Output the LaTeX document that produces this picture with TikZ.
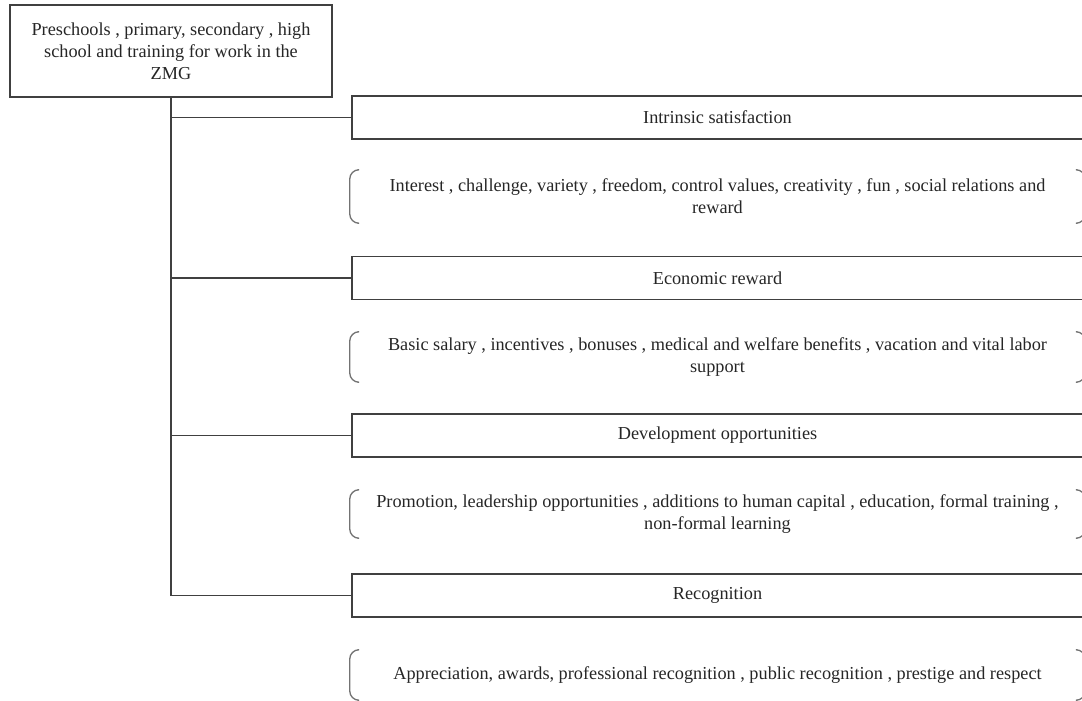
\documentclass[tikz,border=0pt]{standalone}
\usepackage{fontspec}
\setmainfont{Liberation Serif}
\tikzset{
  frame/.style={draw=black!75,line width=1.1pt,fill=white,inner sep=0pt,align=center,
    font=\fontsize{13.7}{16.5}\selectfont,text=black!85},
  headbox/.style={frame,minimum width=548.25pt,minimum height=32.5pt},
  detailbox/.style={inner sep=0pt,align=center,minimum width=551.25pt,
    font=\fontsize{13.7}{16.5}\selectfont,text=black!85},
  brace/.style={draw=black!55,line width=1pt,rounded corners=7pt},
  link/.style={draw=black!75,line width=1.1pt}
}
\begin{document}
\begin{tikzpicture}[x=0.75pt,y=-0.75pt]
\useasboundingbox (0,0) rectangle (1082,700);
\node[frame,minimum width=241.5pt,minimum height=69pt] (top) at (171,51)
  {Preschools , primary, secondary , high\\ school and training for work in the\\ ZMG};

\node[headbox] (intr) at (717.5,117.5) {Intrinsic satisfaction};
\node[detailbox,minimum height=39.75pt] (intrd) at (717.5,196.5)
  {Interest , challenge, variety , freedom, control values, creativity , fun , social relations and\\ reward};

\node[headbox] (econ) at (717.5,278) {Economic reward};
\node[detailbox,minimum height=37.5pt] (econd) at (717.5,357)
  {Basic salary , incentives , bonuses , medical and welfare benefits , vacation and vital labor\\ support};

\node[headbox] (devel) at (717.5,435.5) {Development opportunities};
\node[detailbox,minimum height=36pt] (develd) at (717.5,514)
  {Promotion, leadership opportunities , additions to human capital , education, formal training ,\\ non-formal learning};

\node[headbox] (recog) at (717.5,595.5) {Recognition};
\node[detailbox,minimum height=37.5pt] (recogd) at (717.5,675)
  {Appreciation, awards, professional recognition , public recognition , prestige and respect};

\draw[link] (top.south) |- (recog.west);
\draw[link] (top.south |- intr.west) -- (intr.west);
\draw[link] (top.south |- econ.west) -- (econ.west);
\draw[link] (top.south |- devel.west) -- (devel.west);

\foreach \n in {intrd,econd,develd,recogd}{
  \draw[brace] ([xshift=6pt]\n.north west) -- (\n.north west) -- (\n.south west) -- ([xshift=6pt]\n.south west);
  \draw[brace] ([xshift=-6pt]\n.north east) -- (\n.north east) -- (\n.south east) -- ([xshift=-6pt]\n.south east);
}
\end{tikzpicture}
\end{document}
